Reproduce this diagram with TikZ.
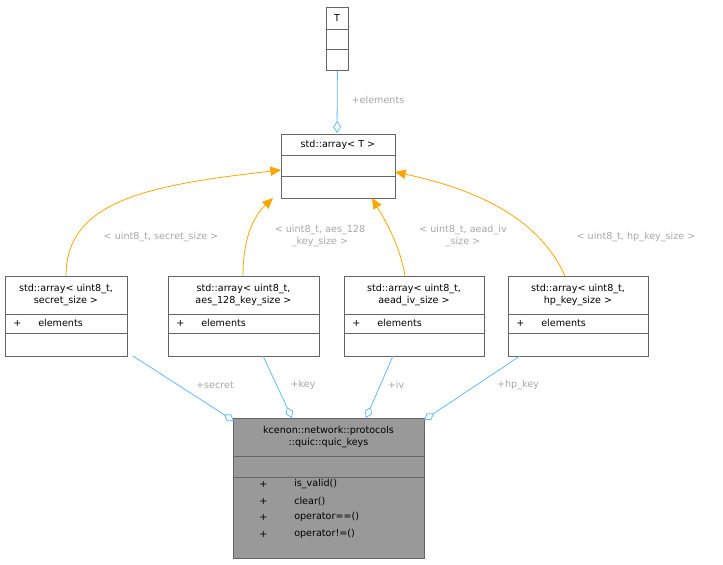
\documentclass[tikz,border=0pt]{standalone}
\usepackage{fontspec}
\setmainfont{DejaVu Sans}
\usetikzlibrary{arrows.meta}
\definecolor{inhc}{HTML}{FFA500}
\definecolor{compc}{HTML}{63B8FF}
\begin{document}
\begin{tikzpicture}[x=0.75pt,y=-0.75pt,
  box/.style={draw=black!60,line width=0.6pt,fill=white,inner sep=0pt,anchor=north west},
  txt/.style={font=\fontsize{7.2}{8.3}\selectfont,align=center,inner sep=0pt},
  lab/.style={font=\fontsize{7.2}{8.3}\selectfont,text=black!35,align=center,inner sep=0pt},
  sep/.style={draw=black!60,line width=0.6pt},
  comp/.style={draw=compc,line width=0.6pt,-{Diamond[open,length=9pt,width=6pt]}},
  inh/.style={draw=inhc,line width=0.6pt,-{Triangle[length=8pt,width=7pt]}}]
\useasboundingbox (0,0) rectangle (723,564);
% T
\node[box,minimum width=22*0.75pt,minimum height=63*0.75pt] (t) at (326,7) {};
\node[txt] at (337,18) {T};
\draw[sep] (326,29)--(348,29) (326,49)--(348,49);
% std::array<T>
\node[box,minimum width=114*0.75pt,minimum height=64*0.75pt] (a) at (281,134) {};
\node[txt] at (338,145) {std::array< T >};
\draw[sep] (281,155)--(395,155) (281,176)--(395,176);
% specializations
\foreach \n/\xa/\w/\ta/\tb in {b1/5/122/{std::array< uint8\_t,}/{secret\_size >},b2/168/151/{std::array< uint8\_t,}/{aes\_128\_key\_size >},b3/344/140/{std::array< uint8\_t,}/{aead\_iv\_size >},b4/508/140/{std::array< uint8\_t,}/{hp\_key\_size >}}{
  \node[box,minimum width=\w*0.75pt,minimum height=80*0.75pt] (\n) at (\xa,276) {};
  \node[txt] at (\xa+\w/2,295) {\ta\\\tb};
  \draw[sep] (\xa,314)--(\xa+\w,314) (\xa,333)--(\xa+\w,333);
  \node[txt,anchor=west] at (\xa+8,323) {+};
  \node[txt,anchor=west] at (\xa+33,323) {elements};
}
% main
\node[box,fill=black!40,minimum width=191*0.75pt,minimum height=140*0.75pt] (m) at (233,418) {};
\node[txt] at (328.5,437) {kcenon::network::protocols\\::quic::quic\_keys};
\draw[sep] (233,456)--(424,456) (233,477)--(424,477);
\foreach \y/\s in {484/is\_valid(),501/clear(),517/operator==(),534/operator!=()}{
  \node[txt,anchor=west] at (259,\y) {+};
  \node[txt,anchor=west] at (294,\y) {\s};
}
% edges
\draw[comp] (t.south) -- (337,133);
\node[lab] at (378,100) {+elements};
\draw[inh] (66,276) .. controls (66,200) and (150,185) .. (281,170);
\node[lab] at (161,237) {< uint8\_t, secret\_size >};
\draw[inh] (243,276) .. controls (243,235) and (255,215) .. (273,198);
\node[lab] at (320,236) {< uint8\_t, aes\_128\\\_key\_size >};
\draw[inh] (405,276) .. controls (400,245) and (385,220) .. (372,198);
\node[lab] at (463,236) {< uint8\_t, aead\_iv\\\_size >};
\draw[inh] (565,276) .. controls (540,220) and (480,190) .. (395,172);
\node[lab] at (636,237) {< uint8\_t, hp\_key\_size >};
\draw[comp] (133,356) -- (234,421);
\node[lab] at (215,385) {+secret};
\draw[comp] (263,356) -- (292,418);
\node[lab] at (303,385) {+key};
\draw[comp] (393,356) -- (366,418);
\node[lab] at (396,385) {+iv};
\draw[comp] (520,356) -- (424,420);
\node[lab] at (518,385) {+hp\_key};
\end{tikzpicture}
\end{document}
